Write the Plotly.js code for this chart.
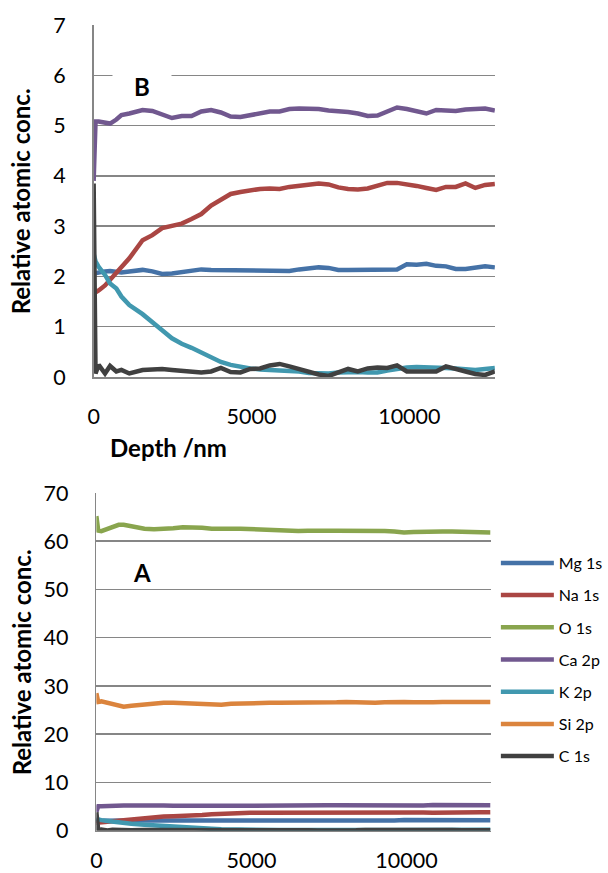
<!DOCTYPE html>
<html><head><meta charset="utf-8">
<script src="https://cdn.plot.ly/plotly-3.0.1.min.js"></script>
<style>html,body{margin:0;padding:0;background:#fff}#chart{width:608px;height:873px}</style>
</head><body><div id="chart"></div>
<script>
// Depth (nm)
const depth = [0, 60, 160, 360, 520, 720, 880, 1130, 1550, 1860, 2170, 2480, 2790, 3100, 3410, 3720, 4030, 4340, 4650, 4960, 5270, 5580, 5890, 6200, 6510, 6820, 7130, 7440, 7750, 8060, 8370, 8680, 8990, 9300, 9610, 9920, 10230, 10540, 10850, 11160, 11470, 11780, 12090, 12400, 12710];

const mg1s = [2.06, 2.07, 2.08, 2.10, 2.11, 2.09, 2.08, 2.10, 2.13, 2.10, 2.05, 2.06, 2.09, 2.11, 2.14, 2.13, 2.13, 2.13, 2.13, 2.13, 2.13, 2.13, 2.11, 2.11, 2.14, 2.16, 2.18, 2.17, 2.13, 2.13, 2.13, 2.13, 2.13, 2.12, 2.14, 2.24, 2.23, 2.25, 2.21, 2.20, 2.15, 2.15, 2.18, 2.20, 2.18];
const na1s = [1.66, 1.68, 1.72, 1.82, 1.93, 2.06, 2.17, 2.36, 2.72, 2.82, 2.96, 3.01, 3.05, 3.14, 3.24, 3.41, 3.53, 3.64, 3.68, 3.72, 3.74, 3.75, 3.74, 3.78, 3.81, 3.84, 3.85, 3.83, 3.77, 3.74, 3.73, 3.75, 3.81, 3.86, 3.86, 3.84, 3.80, 3.76, 3.72, 3.78, 3.78, 3.85, 3.76, 3.82, 3.84];
const o1s = [65.2, 62.2, 62.1, 62.5, 63.0, 63.4, 63.4, 63.1, 62.6, 62.5, 62.5, 62.7, 62.9, 62.9, 62.8, 62.6, 62.5, 62.6, 62.6, 62.5, 62.5, 62.4, 62.3, 62.2, 62.1, 62.2, 62.3, 62.2, 62.2, 62.2, 62.2, 62.3, 62.3, 62.1, 62.0, 61.8, 61.9, 62.0, 62.0, 62.0, 62.0, 61.9, 61.9, 61.8, 61.8];
const ca2p = [3.90, 5.08, 5.08, 5.06, 5.04, 5.12, 5.21, 5.24, 5.31, 5.29, 5.21, 5.15, 5.19, 5.19, 5.28, 5.31, 5.26, 5.18, 5.17, 5.21, 5.25, 5.28, 5.28, 5.33, 5.34, 5.34, 5.33, 5.30, 5.29, 5.27, 5.24, 5.19, 5.20, 5.29, 5.36, 5.33, 5.29, 5.24, 5.31, 5.29, 5.29, 5.32, 5.32, 5.34, 5.30];
const k2p = [2.45, 2.30, 2.19, 2.03, 1.86, 1.76, 1.60, 1.43, 1.25, 1.10, 0.93, 0.77, 0.66, 0.58, 0.49, 0.39, 0.30, 0.24, 0.20, 0.17, 0.15, 0.14, 0.14, 0.13, 0.11, 0.08, 0.07, 0.07, 0.09, 0.10, 0.10, 0.09, 0.09, 0.13, 0.17, 0.19, 0.20, 0.20, 0.20, 0.18, 0.17, 0.15, 0.14, 0.16, 0.18];
const si2p = [28.5, 26.7, 26.8, 26.5, 26.1, 25.8, 25.7, 25.9, 26.2, 26.4, 26.5, 26.5, 26.4, 26.2, 26.1, 26.1, 26.1, 26.3, 26.4, 26.4, 26.5, 26.5, 26.5, 26.5, 26.5, 26.4, 26.4, 26.5, 26.6, 26.7, 26.6, 26.5, 26.5, 26.6, 26.7, 26.7, 26.6, 26.5, 26.6, 26.7, 26.7, 26.7, 26.7, 26.7, 26.7];
const c1s = [3.85, 0.07, 0.24, 0.07, 0.22, 0.11, 0.14, 0.07, 0.14, 0.15, 0.16, 0.14, 0.12, 0.09, 0.09, 0.11, 0.18, 0.10, 0.09, 0.16, 0.17, 0.23, 0.26, 0.21, 0.15, 0.10, 0.05, 0.02, 0.10, 0.16, 0.11, 0.17, 0.19, 0.18, 0.23, 0.11, 0.11, 0.11, 0.11, 0.21, 0.17, 0.11, 0.06, 0.04, 0.11];

const seriesNames = ['Mg 1s', 'Na 1s', 'O 1s', 'Ca 2p', 'K 2p', 'Si 2p', 'C 1s'];
const seriesColors = ['#4572A7', '#AA4643', '#89A54E', '#71588F', '#4198AF', '#DB843D', '#404040'];
const xTickVals = [0, 5000, 10000];
const xTickText = ['0', '5000', '10000'];
const topYTicks = [0, 1, 2, 3, 4, 5, 6, 7];
const bottomYTicks = [0, 10, 20, 30, 40, 50, 60, 70];

const allSeries = [mg1s, na1s, o1s, ca2p, k2p, si2p, c1s];
const topIdx = [0, 1, 3, 4, 6];

const W = 608, H = 873;
const fx = p => p / W;
const fy = p => 1 - p / H;
const FONT = 'Lato, "Open Sans", sans-serif';
const GRID = '#868686';
const LW = 4.5;

const traces = [];
allSeries.forEach((vals, i) => {
  traces.push({
    x: depth, y: vals, type: 'scatter', mode: 'lines', name: seriesNames[i],
    xaxis: 'x2', yaxis: 'y2', legendgroup: 'g' + i, legendrank: i + 1,
    line: {color: seriesColors[i], width: LW}, showlegend: true
  });
});
topIdx.forEach(i => {
  traces.push({
    x: depth, y: allSeries[i], type: 'scatter', mode: 'lines', name: seriesNames[i],
    xaxis: 'x', yaxis: 'y', legendgroup: 'g' + i,
    line: {color: seriesColors[i], width: LW}, showlegend: false
  });
});

const xBase = {
  range: [0, 12710], tickvals: xTickVals, ticktext: xTickText, showgrid: false,
  showline: true, linecolor: GRID, linewidth: 1.5, zeroline: false, ticks: '',
  tickfont: {family: FONT, size: 21.5, color: '#000'}, fixedrange: true
};
const yBase = {
  showgrid: true, gridcolor: GRID, gridwidth: 1.5, showline: true, linecolor: GRID, linewidth: 1.5,
  zeroline: false, ticks: '', tickfont: {family: FONT, size: 21.5, color: '#000'},
  ticklabelstandoff: 22, fixedrange: true
};

function label(text, px, py, extra) {
  return Object.assign({
    text: text, xref: 'paper', yref: 'paper', x: fx(px), y: fy(py), showarrow: false,
    xanchor: 'center', yanchor: 'middle', font: {family: FONT, size: 24, color: '#000'}
  }, extra || {});
}

const layout = {
  width: W, height: H, margin: {l: 0, r: 0, t: 0, b: 0},
  paper_bgcolor: '#fff', plot_bgcolor: 'rgba(0,0,0,0)',
  font: {family: FONT, color: '#000'},
  xaxis: Object.assign({}, xBase, {domain: [fx(96.5), fx(510)], anchor: 'y', ticklabelstandoff: 20}),
  yaxis: Object.assign({}, yBase, {domain: [fy(377), fy(25)], range: [0, 7], tickvals: topYTicks, anchor: 'x'}),
  xaxis2: Object.assign({}, xBase, {domain: [fx(99.3), fx(505.5)], anchor: 'y2', ticklabelstandoff: 10}),
  yaxis2: Object.assign({}, yBase, {domain: [fy(830.7), fy(493)], range: [0, 70], tickvals: bottomYTicks, anchor: 'x2'}),
  showlegend: true,
  legend: {
    x: fx(511), y: fy(546), xanchor: 'left', yanchor: 'top', bgcolor: 'rgba(0,0,0,0)',
    font: {family: FONT, size: 16, color: '#000'}, itemwidth: 53, tracegroupgap: 8.4,
    traceorder: 'grouped'
  },
  annotations: [
    label('<b>B</b>', 146, 86, {bgcolor: '#fff', width: 58, height: 32, borderpad: 0}),
    label('<b>A</b>', 146, 572),
    label('<b>Depth /nm</b>', 174, 448),
    label('<b>Relative atomic conc.</b>', 22, 201, {textangle: -90}),
    label('<b>Relative atomic conc.</b>', 22, 662, {textangle: -90})
  ]
};

Plotly.newPlot('chart', traces, layout, {displayModeBar: false, staticPlot: true});
</script>
</body></html>
